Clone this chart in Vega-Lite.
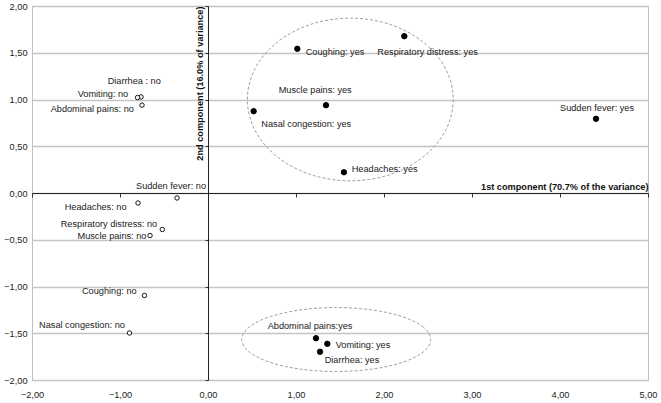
{
  "$schema": "https://vega.github.io/schema/vega-lite/v6.json",
  "width": 616,
  "height": 374,
  "autosize": {"type": "none"},
  "padding": {"left": 32, "top": 6, "right": 13, "bottom": 23},
  "background": "white",
  "config": {
    "view": {"stroke": "#c0c0c0", "strokeWidth": 1},
    "font": "Liberation Sans"
  },
  "datasets": {
    "pts": [
      {"name": "Coughing", "grp": "yes", "x": 1.015, "y": 1.542, "label": "Coughing: yes", "lx": 1.11, "ly": 1.506},
      {"name": "Respiratory distress", "grp": "yes", "x": 2.231, "y": 1.677, "label": "Respiratory distress: yes", "lx": 1.924, "ly": 1.506},
      {"name": "Muscle pains", "grp": "yes", "x": 1.341, "y": 0.939, "label": "Muscle pains: yes", "lx": 0.803, "ly": 1.099},
      {"name": "Nasal congestion", "grp": "yes", "x": 0.519, "y": 0.875, "label": "Nasal congestion: yes", "lx": 0.606, "ly": 0.743},
      {"name": "Headaches", "grp": "yes", "x": 1.545, "y": 0.222, "label": "Headaches: yes", "lx": 1.633, "ly": 0.262},
      {"name": "Sudden fever", "grp": "yes", "x": 4.409, "y": 0.794, "label": "Sudden fever: yes", "lx": 4.0, "ly": 0.904},
      {"name": "Abdominal pains", "grp": "yes", "x": 1.227, "y": -1.553, "label": "Abdominal pains:yes", "lx": 0.678, "ly": -1.425},
      {"name": "Vomiting", "grp": "yes", "x": 1.356, "y": -1.613, "label": "Vomiting: yes", "lx": 1.451, "ly": -1.628},
      {"name": "Diarrhea", "grp": "yes", "x": 1.273, "y": -1.698, "label": "Diarrhea: yes", "lx": 1.326, "ly": -1.791},
      {"name": "Diarrhea", "grp": "no", "x": -0.761, "y": 1.027, "label": "Diarrhea : no", "lx": -1.14, "ly": 1.193},
      {"name": "Vomiting", "grp": "no", "x": -0.801, "y": 1.021, "label": "Vomiting: no", "lx": -1.481, "ly": 1.061},
      {"name": "Abdominal pains", "grp": "no", "x": -0.75, "y": 0.94, "label": "Abdominal pains: no", "lx": -1.788, "ly": 0.898},
      {"name": "Sudden fever", "grp": "no", "x": -0.352, "y": -0.053, "label": "Sudden fever: no", "lx": -0.818, "ly": 0.073},
      {"name": "Headaches", "grp": "no", "x": -0.795, "y": -0.107, "label": "Headaches: no", "lx": -1.628, "ly": -0.155},
      {"name": "Respiratory distress", "grp": "no", "x": -0.519, "y": -0.39, "label": "Respiratory distress: no", "lx": -1.674, "ly": -0.332},
      {"name": "Muscle pains", "grp": "no", "x": -0.659, "y": -0.455, "label": "Muscle pains: no", "lx": -1.483, "ly": -0.465},
      {"name": "Coughing", "grp": "no", "x": -0.722, "y": -1.096, "label": "Coughing: no", "lx": -1.432, "ly": -1.053},
      {"name": "Nasal congestion", "grp": "no", "x": -0.892, "y": -1.497, "label": "Nasal congestion: no", "lx": -1.92, "ly": -1.417}
    ],
    "ell": [
      {"e": "A", "i": 0, "x": 2.787, "y": 1.0},
      {"e": "A", "i": 1, "x": 2.698, "y": 1.333},
      {"e": "A", "i": 2, "x": 2.444, "y": 1.615},
      {"e": "A", "i": 3, "x": 2.065, "y": 1.804},
      {"e": "A", "i": 4, "x": 1.617, "y": 1.87},
      {"e": "A", "i": 5, "x": 1.169, "y": 1.804},
      {"e": "A", "i": 6, "x": 0.79, "y": 1.615},
      {"e": "A", "i": 7, "x": 0.536, "y": 1.333},
      {"e": "A", "i": 8, "x": 0.447, "y": 1.0},
      {"e": "A", "i": 9, "x": 0.536, "y": 0.667},
      {"e": "A", "i": 10, "x": 0.79, "y": 0.385},
      {"e": "A", "i": 11, "x": 1.169, "y": 0.196},
      {"e": "A", "i": 12, "x": 1.617, "y": 0.13},
      {"e": "A", "i": 13, "x": 2.065, "y": 0.196},
      {"e": "A", "i": 14, "x": 2.444, "y": 0.385},
      {"e": "A", "i": 15, "x": 2.698, "y": 0.667},
      {"e": "B", "i": 0, "x": 2.531, "y": -1.567},
      {"e": "B", "i": 1, "x": 2.449, "y": -1.436},
      {"e": "B", "i": 2, "x": 2.216, "y": -1.325},
      {"e": "B", "i": 3, "x": 1.868, "y": -1.251},
      {"e": "B", "i": 4, "x": 1.457, "y": -1.225},
      {"e": "B", "i": 5, "x": 1.046, "y": -1.251},
      {"e": "B", "i": 6, "x": 0.698, "y": -1.325},
      {"e": "B", "i": 7, "x": 0.465, "y": -1.436},
      {"e": "B", "i": 8, "x": 0.383, "y": -1.567},
      {"e": "B", "i": 9, "x": 0.465, "y": -1.698},
      {"e": "B", "i": 10, "x": 0.698, "y": -1.809},
      {"e": "B", "i": 11, "x": 1.046, "y": -1.883},
      {"e": "B", "i": 12, "x": 1.457, "y": -1.909},
      {"e": "B", "i": 13, "x": 1.868, "y": -1.883},
      {"e": "B", "i": 14, "x": 2.216, "y": -1.809},
      {"e": "B", "i": 15, "x": 2.449, "y": -1.698}
    ]
  },
  "layer": [
    {
      "data": {"name": "ell"},
      "mark": {"type": "line", "interpolate": "cardinal-closed", "stroke": "#a0a0a0", "strokeWidth": 1, "strokeDash": [3, 2]},
      "encoding": {
        "x": {
          "field": "x", "type": "quantitative",
          "scale": {"domain": [-2, 5], "nice": false, "zero": false},
          "axis": {
            "orient": "bottom", "values": [-2, -1, 0, 1, 2, 3, 4, 5],
            "labelExpr": "replace(format(datum.value, '.2f'), '.', ',')",
            "ticks": false, "domain": false, "grid": false, "title": null,
            "labelPadding": 10, "labelFlush": false, "labelOverlap": false,
            "labelFont": "Liberation Sans", "labelFontSize": 9.2, "labelColor": "#222"
          }
        },
        "y": {
          "field": "y", "type": "quantitative",
          "scale": {"domain": [-2, 2], "nice": false, "zero": false},
          "axis": {
            "orient": "left", "values": [-2, -1.5, -1, -0.5, 0, 0.5, 1, 1.5, 2],
            "labelExpr": "replace(format(datum.value, '.2f'), '.', ',')",
            "ticks": false, "domain": false, "grid": true, "gridColor": "#c4c4c4", "gridWidth": 1.3,
            "title": null, "labelPadding": 5, "labelFlush": false, "labelOverlap": false,
            "labelFont": "Liberation Sans", "labelFontSize": 9.2, "labelColor": "#222"
          }
        },
        "order": {"field": "i", "type": "quantitative"},
        "detail": {"field": "e", "type": "nominal"}
      }
    },
    {
      "data": {"name": "pts"},
      "mark": {"type": "point", "shape": "circle", "filled": false, "stroke": "black", "strokeWidth": 0.9, "opacity": 1},
      "encoding": {
        "x": {
          "field": "x", "type": "quantitative",
          "scale": {"domain": [-2, 5], "nice": false, "zero": false},
          "axis": {
            "orient": "bottom", "offset": -187, "values": [-2, -1, 0, 1, 2, 3, 4, 5],
            "labels": false, "ticks": true, "tickSize": 4, "tickColor": "#333", "tickWidth": 1,
            "domain": true, "domainColor": "#222", "domainWidth": 1, "grid": false,
            "title": "1st component (70.7% of the variance)",
            "titleFont": "Liberation Sans", "titleFontSize": 9.2, "titleFontWeight": "bold", "titleColor": "#111",
            "titleAnchor": "end", "titleAlign": "right", "titleBaseline": "middle", "titleY": -7
          }
        },
        "y": {
          "field": "y", "type": "quantitative",
          "scale": {"domain": [-2, 2], "nice": false, "zero": false},
          "axis": {
            "orient": "left", "offset": -176, "values": [-2, -1.5, -1, -0.5, 0, 0.5, 1, 1.5, 2],
            "labels": false, "ticks": true, "tickSize": 3, "tickColor": "#333", "tickWidth": 1,
            "domain": true, "domainColor": "#222", "domainWidth": 1, "grid": false,
            "title": "2nd component (16.0% of variance)",
            "titleFont": "Liberation Sans", "titleFontSize": 9.2, "titleFontWeight": "bold", "titleColor": "#111",
            "titleAnchor": "end", "titlePadding": 0
          }
        },
        "fill": {"field": "grp", "type": "nominal", "scale": {"domain": ["yes", "no"], "range": ["black", "white"]}, "legend": null},
        "size": {"field": "grp", "type": "nominal", "scale": {"domain": ["yes", "no"], "range": [30, 20]}, "legend": null}
      }
    },
    {
      "data": {"name": "pts"},
      "mark": {"type": "text", "align": "left", "baseline": "middle", "font": "Liberation Sans", "fontSize": 9.2, "color": "#1a1a1a"},
      "encoding": {
        "x": {"field": "lx", "type": "quantitative", "scale": {"domain": [-2, 5], "nice": false, "zero": false}, "axis": null},
        "y": {"field": "ly", "type": "quantitative", "scale": {"domain": [-2, 2], "nice": false, "zero": false}, "axis": null},
        "text": {"field": "label", "type": "nominal"}
      }
    }
  ],
  "resolve": {"axis": {"x": "independent", "y": "independent"}}
}
